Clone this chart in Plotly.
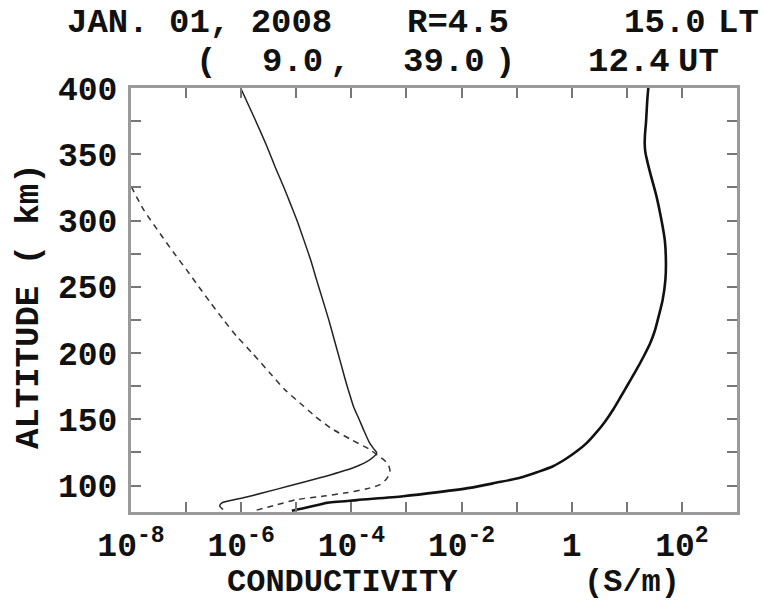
import numpy as np
import plotly.graph_objects as go

# ---- data (altitude km, log10 conductivity S/m) ----
sig0_alt = [81, 83, 85.7, 86.9, 89, 91.9, 95, 98.2, 102, 105.8, 110, 114.5, 120, 125.8, 132, 139.7,
            148, 157.2, 167, 177, 187, 197, 207, 217, 228, 240, 255, 268, 285, 300, 318, 335, 345,
            352, 358, 365, 375, 390, 400]
sig0_log = [-5.08, -4.85, -4.57, -4.45, -3.9, -3.06, -2.42, -1.85, -1.38, -0.94, -0.63, -0.34, -0.11,
            0.09, 0.27, 0.44, 0.60, 0.75, 0.89, 1.03, 1.17, 1.30, 1.42, 1.51, 1.58, 1.65, 1.70,
            1.71, 1.69, 1.63, 1.54, 1.43, 1.37, 1.335, 1.325, 1.33, 1.35, 1.37, 1.39]

sigp_alt = [81.9, 84.5, 86.9, 90.5, 94.5, 100, 105.8, 110, 114, 118, 121.5, 124.8, 128, 133,
            142.2, 150, 159.5, 170, 179.8, 195, 210, 225, 240.1, 255, 270.3, 285, 300.4, 312,
            325.5, 340, 355.7, 378.3, 400]
sigp_log = [-6.33, -6.39, -6.35, -5.98, -5.6, -5.1, -4.57, -4.22, -3.93, -3.72, -3.6, -3.54, -3.6,
            -3.68, -3.78, -3.86, -3.96, -4.04, -4.11, -4.21, -4.31, -4.41, -4.52, -4.63, -4.74,
            -4.86, -4.99, -5.10, -5.23, -5.38, -5.53, -5.77, -6.01]

sigh_alt = [81.4, 85.5, 89.4, 92, 94.5, 97.5, 100.7, 105, 110.7, 116, 119, 122, 127, 135, 143.5,
            152, 160, 172, 185, 200, 212.5, 225, 237.6, 250, 262.7, 276, 290, 308, 326]
sigh_log = [-5.72, -5.35, -4.99, -4.5, -4.09, -3.72, -3.48, -3.36, -3.30, -3.33, -3.4, -3.5, -3.66,
            -4.02, -4.38, -4.65, -4.87, -5.2, -5.48, -5.8, -6.08, -6.32, -6.55, -6.77, -6.99,
            -7.23, -7.47, -7.77, -8.0]

x_major_exp = [-8, -6, -4, -2, 0, 2]
x_major_text = ["10<sup>-8</sup>", "10<sup>-6</sup>", "10<sup>-4</sup>", "10<sup>-2</sup>",
                "1", "10<sup>2</sup>"]
x_minor_exp = [-7, -5, -3, -1, 1]
y_major = [100, 150, 200, 250, 300, 350, 400]
y_minor = [125, 175, 225, 275, 325, 375]

FONT = "Liberation Mono"
L, R, T, B = 131, 33, 88, 90
W, H = 770, 602
PW, PH = W - L - R, H - T - B


def px(x):
    return (x - L) / PW


def py(y):
    return (H - B - y) / PH


fig = go.Figure()
fig.add_trace(go.Scatter(x=10 ** np.array(sig0_log), y=sig0_alt, mode="lines",
                         line=dict(color="#111", width=2.6, shape="spline", smoothing=0.7)))
fig.add_trace(go.Scatter(x=10 ** np.array(sigp_log), y=sigp_alt, mode="lines",
                         line=dict(color="#222", width=1.5, shape="spline", smoothing=0.6)))
fig.add_trace(go.Scatter(x=10 ** np.array(sigh_log), y=sigh_alt, mode="lines",
                         line=dict(color="#333", width=1.5, dash="6px,5px",
                                   shape="spline", smoothing=0.6)))

tick_style = dict(ticks="inside", ticklen=10, tickwidth=1.5, tickcolor="#777")
axcommon = dict(showline=True, linecolor="#9a9a9a", linewidth=3, mirror="ticks",
                showgrid=False, zeroline=False,
                tickfont=dict(family=FONT, size=33, color="#111", weight="bold"),
                **tick_style)

fig.update_xaxes(type="log", range=[-8, 3],
                 tickvals=[10.0 ** e for e in x_major_exp], ticktext=x_major_text,
                 minor=dict(tickvals=[10.0 ** e for e in x_minor_exp], showgrid=False,
                            **tick_style),
                 ticklabelstandoff=1, **axcommon)
fig.update_yaxes(range=[80, 400], tickvals=y_major, ticktext=[str(v) for v in y_major],
                 minor=dict(tickvals=y_minor, showgrid=False, **tick_style),
                 ticklabelstandoff=4, **axcommon)

ann = []


def add(text, x, y, xa="center", angle=0, size=34):
    f = dict(family=FONT, size=size, color="#111", weight="bold")
    ann.append(dict(text=text, x=px(x), y=py(y), xref="paper", yref="paper",
                    xanchor=xa, yanchor="middle", showarrow=False, font=f,
                    textangle=angle, borderpad=0))


add("JAN. 01, 2008", 199, 23)
add("R=4.5", 458, 23)
add("15.0", 665, 23)
add("LT", 738, 23)
add("(", 206, 62)
add("9.0", 292, 62)
add(",", 340, 62)
add("39.0", 444, 62)
add(")", 505, 62)
add("12.4", 629, 62)
add("UT", 698, 62)
add("CONDUCTIVITY", 342, 582, size=32)
add("(S/m)", 632, 582, size=32)
add("ALTITUDE ( km)", 29, 306, angle=-90, size=34)

fig.update_layout(width=W, height=H, margin=dict(l=L, r=R, t=T, b=B),
                  plot_bgcolor="white", paper_bgcolor="white", showlegend=False,
                  annotations=ann)

fig.write_html("out.html")
